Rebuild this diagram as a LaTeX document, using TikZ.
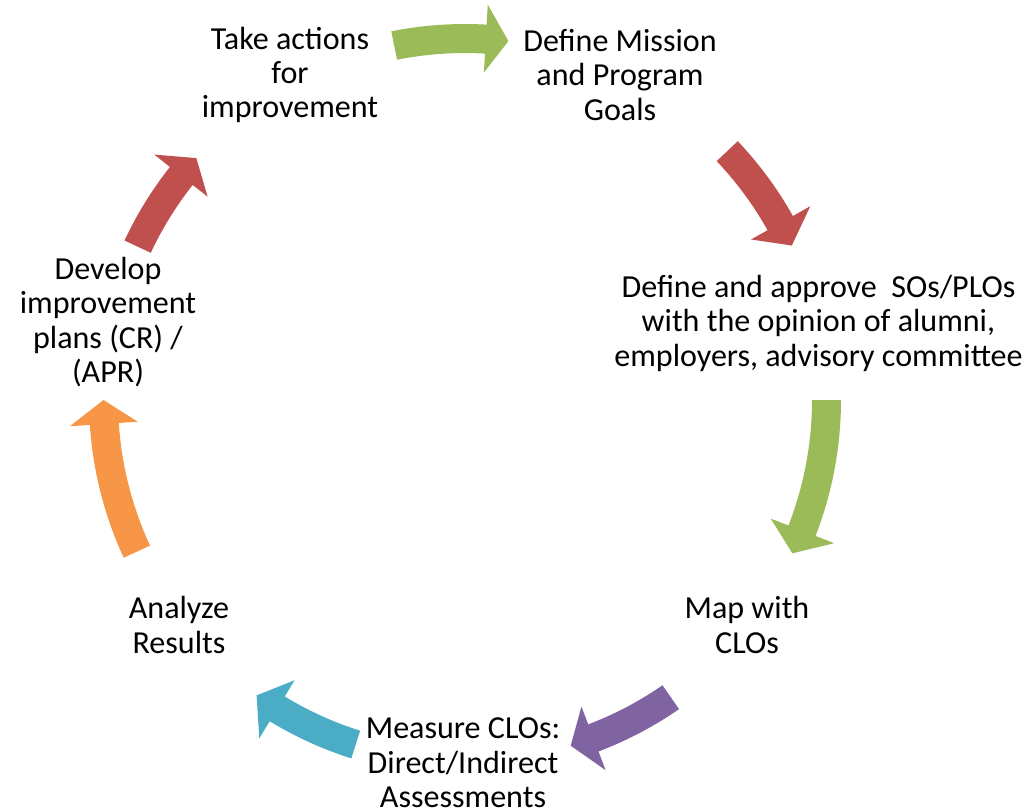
\documentclass[tikz,border=0pt]{standalone}
\usepackage{fontspec}
\setmainfont{Carlito}
\usepackage{tikz}

\definecolor{cgreen}{HTML}{9BBB59}
\definecolor{cred}{HTML}{C0504D}
\definecolor{cpurple}{HTML}{8064A2}
\definecolor{caqua}{HTML}{4BACC6}
\definecolor{corange}{HTML}{F79646}

\tikzset{stage/.style={align=center,inner sep=0pt,
    font=\fontsize{22.8}{24.5}\selectfont}}

\begin{document}
\begin{tikzpicture}[x=0.025cm,y=0.025cm]
  \useasboundingbox (-465,-409) rectangle (560,400);
  \pgfmathsetmacro\rin{347}
  \pgfmathsetmacro\rout{376}
  \pgfmathsetmacro\hin{328}
  \pgfmathsetmacro\hout{396}
  \pgfmathsetmacro\rtip{361.5}
  % curved block arrows: start / head base / tip angle
  \foreach \s/\h/\t/\c in {101.3/86.7/83.1/cgreen, 43.5/29.3/25.3/cred,
      0/-21.2/-25.1/cgreen, -55.3/-69.2/-73.0/cpurple,
      -107.6/-121.3/-125.2/caqua, 204.8/183.8/180/corange,
      154.9/141.7/138/cred}
    \fill[\c] (\s:\rout) arc[start angle=\s,end angle=\h,radius=\rout]
      -- (\h:\hout) -- (\t:\rtip) -- (\h:\hin) -- (\h:\rin)
      arc[start angle=\h,end angle=\s,radius=\rin] -- cycle;
  % stages
  \node[stage] (take) at (-175,325) {Take actions\\for\\improvement};
  \node[stage] (mission) at (155,325) {Define Mission\\and Program\\Goals};
  \node[stage] (sos) at (353.5,77) {Define and approve~ SOs/PLOs\\with the opinion of alumni,\\employers, advisory committee};
  \node[stage] (map) at (282,-225) {Map with\\CLOs};
  \node[stage] (measure) at (-2,-363) {Measure CLOs:\\Direct/Indirect\\Assessments};
  \node[stage] (analyze) at (-286,-225) {Analyze\\Results};
  \node[stage] (develop) at (-357,78) {Develop\\improvement\\plans (CR) /\\(APR)};
\end{tikzpicture}
\end{document}
